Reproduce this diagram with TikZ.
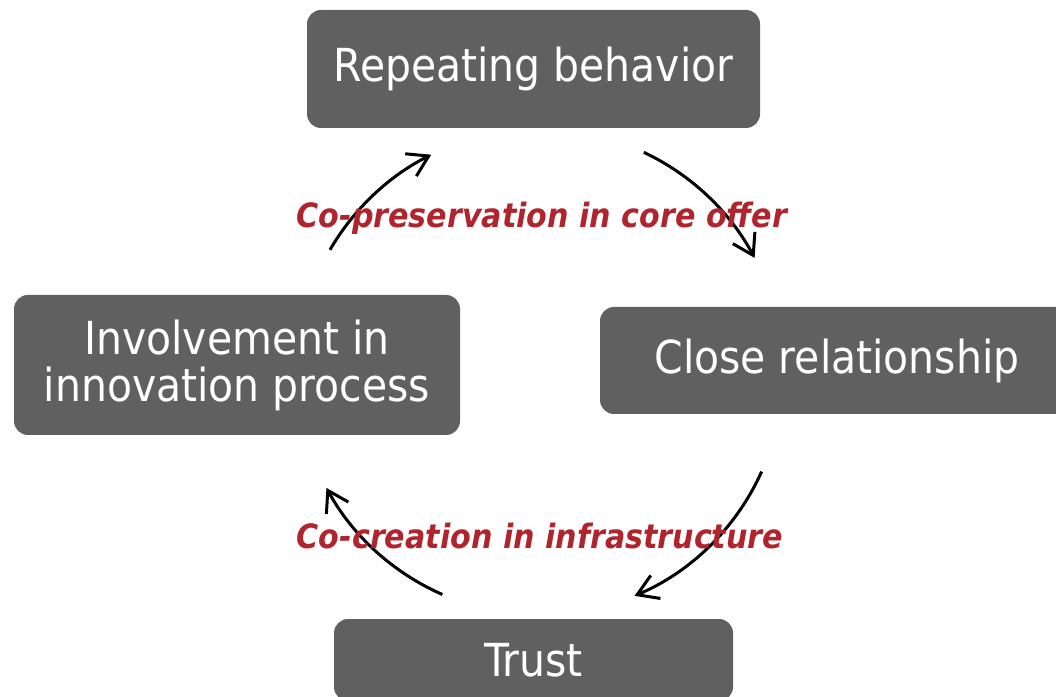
\documentclass[tikz,border=0pt]{standalone}
\usepackage{fontspec}
\setmainfont{DejaVu Sans Condensed}
\usetikzlibrary{arrows.meta,calc}
\definecolor{boxgrey}{RGB}{96,96,96}
\definecolor{labelred}{RGB}{176,36,46}
\begin{document}
\begin{tikzpicture}[x=1pt,y=1pt,
  stagebox/.style={draw=none,fill=boxgrey,rounded corners=14pt,text=white,
    font=\fontsize{45.5}{47}\selectfont,align=center,inner sep=0pt},
  flow/.style={line width=3pt,-{Straight Barb[length=20pt,width=25pt,line width=3pt]}},
  cyclelabel/.style={text=labelred,font=\fontsize{33.5}{36}\selectfont\bfseries\itshape}]
\useasboundingbox (0,0) rectangle (1056,696);
\fill[white] (0,0) rectangle (1056,696);

% the four stages of the cycle
\node[stagebox,minimum width=453pt,minimum height=118pt] (rep) at (533.5,627) {Repeating behavior};
\node[stagebox,minimum width=474pt,minimum height=107pt] (close) at (837,335.5) {Close relationship};
\node[stagebox,minimum width=399pt,minimum height=82pt] (trust) at (533.5,36) {Trust};
\node[stagebox,minimum width=446pt,minimum height=140pt] (inv) at (237,331) {Involvement in\\innovation process};

% clockwise arcs round a common centre
\coordinate (ctr) at (540,324);
\coordinate (a1) at ($(ctr)+(149.8:243)$);
\coordinate (a2) at ($(ctr)+(64.7:243)$);
\coordinate (a3) at ($(ctr)+(-24.2:243)$);
\coordinate (a4) at ($(ctr)+(246.3:243)$);
\draw[flow] (a1) arc[start angle=149.8,end angle=116.6,radius=243];
\draw[flow] (a2) arc[start angle=64.7,end angle=28,radius=243];
\draw[flow] (a3) arc[start angle=-24.2,end angle=-67.1,radius=243];
\draw[flow] (a4) arc[start angle=246.3,end angle=208.5,radius=243];

% labels of the two loops
\node[cyclelabel] (top) at (542,478) {Co-preservation in core offer};
\node[cyclelabel] (bottom) at (540,160) {Co-creation in infrastructure};
\end{tikzpicture}
\end{document}
